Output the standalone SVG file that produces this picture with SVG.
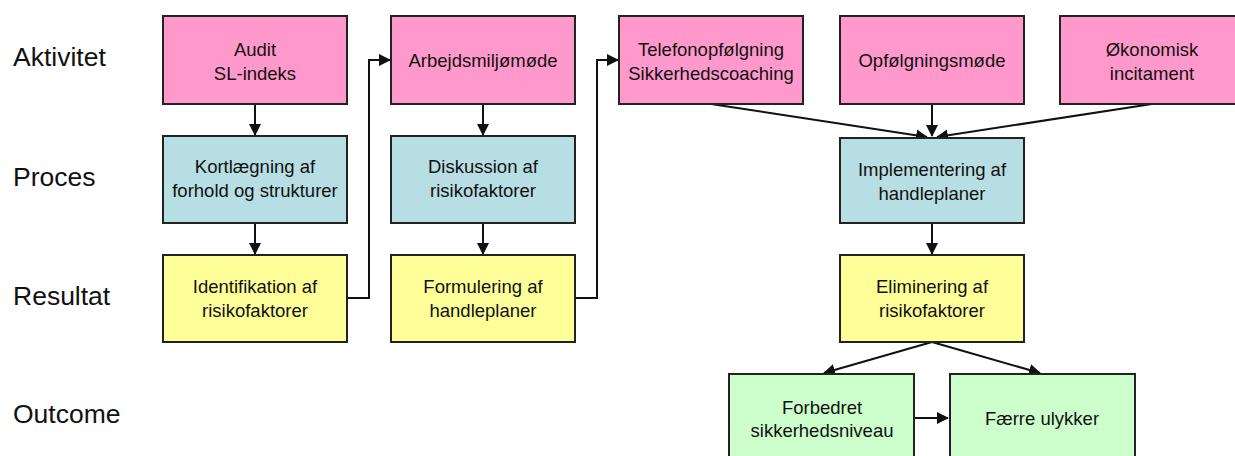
<svg xmlns="http://www.w3.org/2000/svg" width="1235" height="456" viewBox="0 0 1235 456">
<style>
.box{stroke:#222;stroke-width:2}
.a{fill:#FF99CC}.p{fill:#B7DEE2}.r{fill:#FFFF99}.o{fill:#CCFFCC}
text{font-family:"Liberation Sans",Arial,sans-serif;fill:#111}
.t{font-size:18.5px;text-anchor:middle}
.lab{font-size:26.5px}
.c{fill:none;stroke:#111;stroke-width:2;marker-end:url(#ah)}
</style>
<defs>
<marker id="ah" markerWidth="12" markerHeight="12" refX="11" refY="6" orient="auto" markerUnits="userSpaceOnUse">
<path d="M0,0 L12,6 L0,12 Z" fill="#111"/>
</marker>
</defs>
<rect width="1235" height="456" fill="#fff"/>
<g id="labels">
<text class="lab" x="13" y="66">Aktivitet</text>
<text class="lab" x="13" y="186">Proces</text>
<text class="lab" x="13" y="305">Resultat</text>
<text class="lab" x="13" y="423">Outcome</text>
</g>
<g id="connectors">
<path class="c" d="M255,104 V135"/>
<path class="c" d="M255,223 V254"/>
<path class="c" d="M347,298 H369 V60 H390"/>
<path class="c" d="M483,104 V135"/>
<path class="c" d="M483,223 V254"/>
<path class="c" d="M575,298 H597 V60 H618"/>
<path class="c" d="M711,104 L927,137"/>
<path class="c" d="M932,104 V136"/>
<path class="c" d="M1152,104 L937,137"/>
<path class="c" d="M932,223 V254"/>
<path class="c" d="M932,342 L824,373"/>
<path class="c" d="M932,342 L1040,373"/>
<path class="c" d="M914,418 H948"/>
</g>
<g id="n-audit"><rect class="box a" x="163" y="16" width="184" height="88"/><text class="t" x="255" y="56">Audit</text><text class="t" x="255" y="80">SL-indeks</text></g>
<g id="n-arbejd"><rect class="box a" x="391" y="16" width="184" height="88"/><text class="t" x="483" y="67">Arbejdsmiljømøde</text></g>
<g id="n-telefon"><rect class="box a" x="619" y="16" width="184" height="88"/><text class="t" x="711" y="56">Telefonopfølgning</text><text class="t" x="711" y="80">Sikkerhedscoaching</text></g>
<g id="n-opf"><rect class="box a" x="840" y="16" width="184" height="88"/><text class="t" x="932" y="67">Opfølgningsmøde</text></g>
<g id="n-okon"><rect class="box a" x="1060" y="16" width="184" height="88"/><text class="t" x="1152" y="56">Økonomisk</text><text class="t" x="1152" y="80">incitament</text></g>
<g id="n-kort"><rect class="box p" x="163" y="136" width="184" height="87"/><text class="t" x="255" y="173">Kortlægning af</text><text class="t" x="255" y="197">forhold og strukturer</text></g>
<g id="n-disk"><rect class="box p" x="391" y="136" width="184" height="87"/><text class="t" x="483" y="173">Diskussion af</text><text class="t" x="483" y="197">risikofaktorer</text></g>
<g id="n-impl"><rect class="box p" x="840" y="138" width="184" height="85"/><text class="t" x="932" y="176">Implementering  af</text><text class="t" x="932" y="200">handleplaner</text></g>
<g id="n-ident"><rect class="box r" x="163" y="255" width="184" height="87"/><text class="t" x="255" y="293">Identifikation af</text><text class="t" x="255" y="317">risikofaktorer</text></g>
<g id="n-form"><rect class="box r" x="391" y="255" width="184" height="87"/><text class="t" x="483" y="293">Formulering  af</text><text class="t" x="483" y="317">handleplaner</text></g>
<g id="n-elim"><rect class="box r" x="840" y="255" width="184" height="87"/><text class="t" x="932" y="293">Eliminering  af</text><text class="t" x="932" y="317">risikofaktorer</text></g>
<g id="n-forb"><rect class="box o" x="729" y="374" width="185" height="90"/><text class="t" x="822" y="414">Forbedret</text><text class="t" x="822" y="437">sikkerhedsniveau</text></g>
<g id="n-faerre"><rect class="box o" x="950" y="374" width="185" height="90"/><text class="t" x="1042" y="425">Færre ulykker</text></g>
</svg>
